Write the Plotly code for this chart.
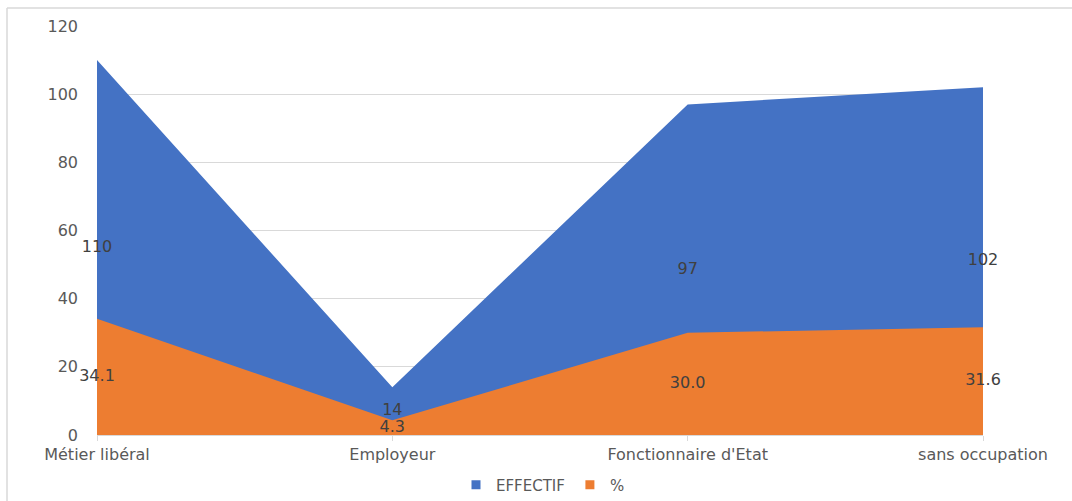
import plotly.graph_objects as go

categories = ["Métier libéral", "Employeur", "Fonctionnaire d'Etat", "sans occupation"]
effectif = [110, 14, 97, 102]
pourcent = [34.1, 4.3, 30.0, 31.6]
y_ticks = [0, 20, 40, 60, 80, 100, 120]

BLUE = "#4472C4"
ORANGE = "#ED7D31"
GRID = "#D9D9D9"
FONT = "DejaVu Sans"
TXT = "#595959"

x = list(range(len(categories)))

fig = go.Figure()

# Overlapping (non-stacked) areas
fig.add_trace(go.Scatter(x=x, y=effectif, name="EFFECTIF", mode="none",
                         fill="tozeroy", fillcolor=BLUE, showlegend=False,
                         legendgroup="eff"))
fig.add_trace(go.Scatter(x=x, y=pourcent, name="%", mode="none",
                         fill="tozeroy", fillcolor=ORANGE, showlegend=False,
                         legendgroup="pct"))

# Square legend keys
fig.add_trace(go.Scatter(x=[None], y=[None], name="EFFECTIF", mode="markers",
                         marker=dict(symbol="square", size=9, color=BLUE),
                         legendgroup="eff"))
fig.add_trace(go.Scatter(x=[None], y=[None], name="%", mode="markers",
                         marker=dict(symbol="square", size=9, color=ORANGE),
                         legendgroup="pct"))

# Data labels placed at the middle of each area's height
fig.add_trace(go.Scatter(x=x, y=[v / 2 for v in effectif], mode="text",
                         text=[f"{v:d}" for v in effectif],
                         textfont=dict(family=FONT, size=16, color="#404040"),
                         showlegend=False, hoverinfo="skip", cliponaxis=False))
fig.add_trace(go.Scatter(x=x, y=[v / 2 for v in pourcent], mode="text",
                         text=[f"{v:.1f}" for v in pourcent],
                         textfont=dict(family=FONT, size=16, color="#404040"),
                         showlegend=False, hoverinfo="skip", cliponaxis=False))

L, R, T, B = 97, 89, 26, 66
W, H = 1072, 501
pw, ph = W - L - R, H - T - B

fig.update_layout(
    width=W, height=H,
    margin=dict(l=L, r=R, t=T, b=B, autoexpand=False),
    paper_bgcolor="white", plot_bgcolor="white",
    font=dict(family=FONT, size=16, color=TXT),
    showlegend=True,
    legend=dict(orientation="h", xref="container", yref="container",
                x=543 / W, xanchor="center",
                y=1 - 485 / H, yanchor="middle",
                font=dict(family=FONT, size=15, color=TXT),
                itemwidth=30, traceorder="normal"),
    xaxis=dict(range=[0, len(categories) - 1], tickmode="array", tickvals=x,
               ticktext=categories, showgrid=False, zeroline=False,
               showline=True, linecolor=GRID, linewidth=1,
               ticks="outside", ticklen=5, tickcolor=GRID,
               automargin=False,
               tickfont=dict(family=FONT, size=16, color=TXT)),
    yaxis=dict(range=[0, 120], tickmode="array", tickvals=y_ticks,
               showgrid=True, gridcolor=GRID, gridwidth=1, zeroline=False,
               showline=False, ticks="", ticklabelstandoff=18,
               automargin=False,
               tickfont=dict(family=FONT, size=16, color=TXT)),
    shapes=[
        # chart frame: top and left edges
        dict(type="line", xref="paper", yref="paper",
             x0=(7 - L) / pw, x1=(W + 5 - L) / pw,
             y0=(T + ph - 8) / ph, y1=(T + ph - 8) / ph,
             line=dict(color=GRID, width=1.5)),
        dict(type="line", xref="paper", yref="paper",
             x0=(7 - L) / pw, x1=(7 - L) / pw,
             y0=(T + ph - 8) / ph, y1=(T + ph - H - 5) / ph,
             line=dict(color=GRID, width=1.5)),
    ],
)

fig.write_html("out.html")
